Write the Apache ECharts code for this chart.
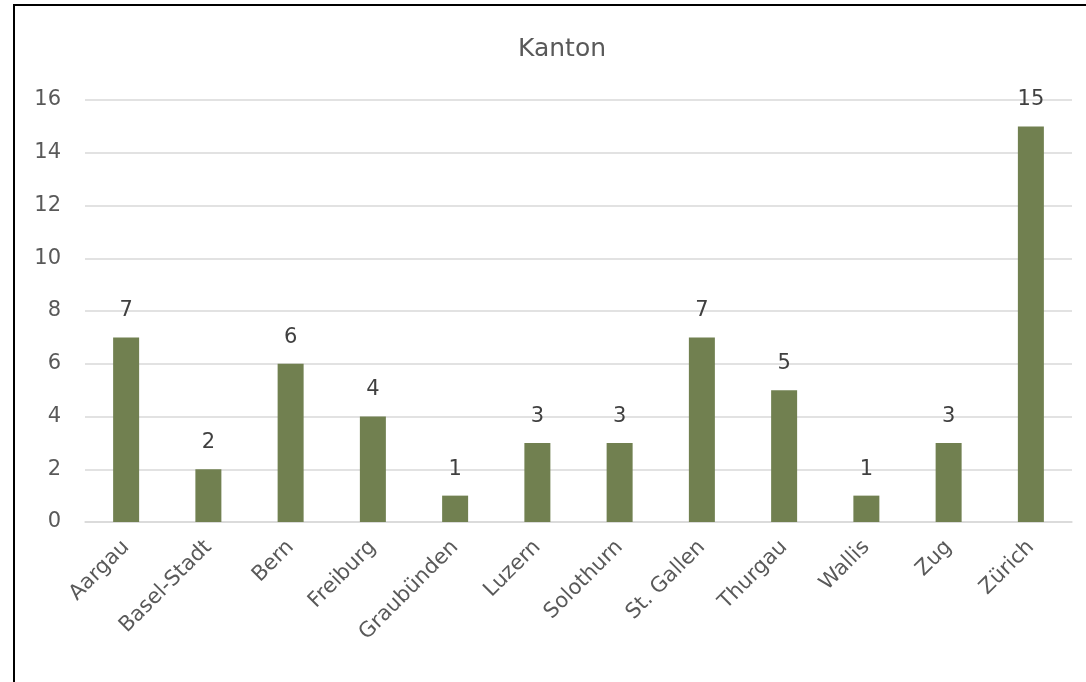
<!DOCTYPE html>
<html><head><meta charset="utf-8">
<script src="https://cdn.jsdelivr.net/npm/echarts@6/dist/echarts.min.js"></script>
<style>
html,body{margin:0;padding:0;background:#fff;}
#frame{position:absolute;left:13px;top:4px;width:1100px;height:700px;border-left:2px solid #000;border-top:2px solid #000;}
#c{position:absolute;left:0;top:0;width:1086px;height:682px;}
</style></head>
<body>
<div id="frame"></div>
<div id="c"></div>
<script>
const categories = ['Aargau','Basel-Stadt','Bern','Freiburg','Graubünden','Luzern','Solothurn','St. Gallen','Thurgau','Wallis','Zug','Zürich'];
const values = [7,2,6,4,1,3,3,7,5,1,3,15];
const chartTitle = 'Kanton';
const FONT = '"DejaVu Sans", Verdana, sans-serif';
const chart = echarts.init(document.getElementById('c'), null, {renderer:'canvas'});
chart.setOption({
  backgroundColor:'transparent',
  animation:false,
  title:{text:chartTitle,left:557,top:32,textAlign:'center',
    textStyle:{fontFamily:FONT,fontSize:25,fontWeight:'normal',color:'#595959'}},
  grid:{left:85,right:14,top:100,bottom:160,containLabel:false},
  xAxis:{type:'category',data:categories,
    axisLine:{show:true,lineStyle:{color:'#d9d9d9',width:1.5}},
    axisTick:{show:false},
    axisLabel:{rotate:45,interval:0,margin:22,fontFamily:FONT,fontSize:21,color:'#595959'}},
  yAxis:{type:'value',min:0,max:16,interval:2,
    axisLine:{show:false},axisTick:{show:false},
    splitLine:{lineStyle:{color:'#d9d9d9',width:1.5}},
    axisLabel:{margin:24,fontFamily:FONT,fontSize:21,color:'#595959'}},
  series:[{type:'bar',data:values,barWidth:26,
    itemStyle:{color:'#718050'},
    label:{show:true,position:'top',distance:16,fontFamily:FONT,fontSize:21,color:'#404040'}}]
});
</script>
</body></html>
